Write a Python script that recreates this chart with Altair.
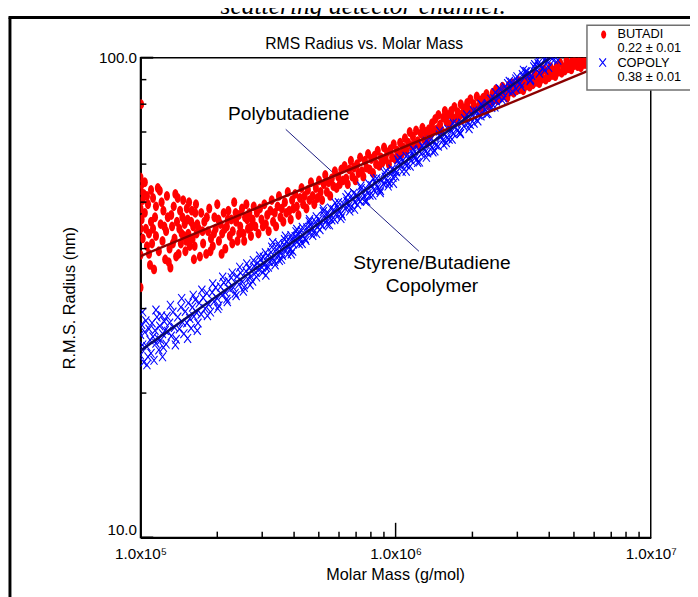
import altair as alt
import pandas as pd

FONT = "Liberation Sans"

# ---------------- data ----------------
# (molar mass in units of 1e5 g/mol, RMS radius in nm)
butadi_points = [
    (1.00, 56.3), (1.00, 53.0), (1.00, 48.5), (1.00, 44.0), (1.00, 38.8), (1.00, 33.2), (1.005, 80.0),
    (1.01, 54.5), (1.01, 46.0), (1.02, 42.0), (1.02, 50.5), (1.03, 52.0), (1.04, 47.5), (1.04, 55.0),
    (1.05, 44.0), (1.06, 40.5), (1.06, 51.5), (1.07, 49.5), (1.08, 43.0), (1.08, 39.0), (1.09, 37.0),
    (1.10, 45.5), (1.10, 53.0), (1.11, 41.0), (1.12, 51.0), (1.12, 44.0), (1.13, 36.2), (1.14, 46.5),
    (1.15, 42.5), (1.15, 49.0), (1.17, 53.5), (1.18, 39.5), (1.19, 52.8), (1.20, 45.0), (1.21, 50.0),
    (1.22, 41.5), (1.23, 48.0), (1.24, 44.5), (1.25, 38.0), (1.26, 43.5), (1.27, 51.5), (1.28, 46.5),
    (1.29, 37.5), (1.30, 40.0), (1.31, 36.5), (1.32, 47.0), (1.33, 44.5), (1.34, 41.0), (1.35, 49.0),
    (1.36, 42.0), (1.37, 52.0), (1.38, 38.5), (1.39, 45.5), (1.40, 51.0), (1.41, 39.0), (1.42, 44.0),
    (1.43, 48.0), (1.44, 41.0), (1.45, 43.0), (1.46, 46.5), (1.47, 50.5), (1.48, 42.5), (1.49, 45.0),
    (1.50, 39.5), (1.51, 41.5), (1.52, 48.5), (1.53, 46.0), (1.54, 43.0), (1.55, 50.0), (1.56, 40.5),
    (1.57, 42.0), (1.58, 45.5), (1.59, 48.0), (1.60, 42.0), (1.61, 44.5), (1.62, 38.0), (1.63, 40.5),
    (1.64, 47.5), (1.65, 49.5), (1.66, 43.0), (1.67, 45.0),
    (1.69, 44.0), (1.71, 38.5), (1.73, 47.5), (1.75, 43.5), (1.76, 41.0), (1.78, 45.5), (1.81, 39.0),
    (1.82, 46.5), (1.84, 43.5), (1.86, 48.5), (1.88, 39.5), (1.89, 42.0), (1.92, 40.5), (1.94, 43.0),
    (1.95, 46.5), (1.97, 44.0), (2.00, 49.5), (2.02, 46.0), (2.03, 41.5), (2.06, 45.0), (2.08, 39.0),
    (2.09, 43.0), (2.12, 47.5), (2.14, 44.0), (2.15, 40.0), (2.18, 44.5), (2.20, 46.0), (2.21, 48.0),
    (2.24, 42.5), (2.27, 46.0), (2.29, 41.0), (2.30, 43.5), (2.33, 50.0), (2.36, 47.5), (2.37, 45.5),
    (2.40, 41.5), (2.43, 47.0), (2.44, 43.0), (2.46, 44.5), (2.50, 48.5), (2.53, 43.0), (2.55, 41.5),
    (2.57, 46.5), (2.60, 49.5), (2.62, 46.0), (2.64, 44.0), (2.67, 47.5), (2.71, 42.5), (2.72, 44.5),
    (2.75, 46.0), (2.78, 49.0), (2.82, 44.5), (2.86, 47.5), (2.90, 43.0), (2.94, 48.5), (2.98, 46.0),
    (3.02, 44.5), (3.06, 49.5), (3.10, 45.0), (3.14, 47.0), (3.18, 43.5), (3.23, 48.0), (3.27, 50.5),
    (3.31, 45.5), (3.36, 47.5), (3.40, 44.5), (3.45, 49.0), (3.49, 51.5), (3.54, 46.5), (3.58, 48.5),
    (3.63, 45.5), (3.68, 50.0), (3.73, 47.5), (3.78, 52.5), (3.83, 48.0), (3.88, 46.0), (3.93, 50.5),
    (3.98, 48.5), (4.04, 52.0), (4.10, 49.0), (4.16, 47.0), (4.22, 51.0), (4.28, 53.5), (4.34, 49.5),
    (4.40, 51.5), (4.47, 48.5), (4.53, 53.0), (4.60, 50.5), (4.66, 55.0), (4.73, 51.5), (4.80, 49.5),
    (4.87, 53.5), (4.94, 51.0), (5.01, 55.5), (5.08, 52.5), (5.15, 50.5), (5.23, 54.5), (5.30, 57.0),
    (5.38, 52.5), (5.46, 55.0), (5.54, 51.5), (5.62, 56.0), (5.70, 54.0), (5.78, 58.0), (5.87, 53.5),
    (5.96, 56.5), (6.04, 54.5), (6.13, 58.5), (6.22, 55.5), (6.31, 59.5), (6.40, 56.0), (6.49, 54.5),
    (6.58, 58.5), (6.68, 61.0), (6.77, 56.5), (6.87, 59.0), (6.96, 55.5), (7.06, 60.0), (7.16, 57.5),
    (7.26, 62.0), (7.37, 58.0), (7.47, 56.5), (7.58, 61.0), (7.69, 59.0), (7.80, 63.0), (7.91, 58.5),
    (8.03, 61.5), (8.15, 57.5), (8.27, 62.5), (8.39, 60.0), (8.51, 64.0), (8.63, 59.5), (8.76, 62.0),
    (8.88, 60.5), (9.01, 65.0), (9.14, 61.5), (9.27, 63.5), (9.41, 60.0), (9.55, 64.5), (9.69, 62.0),
    (9.83, 66.0), (9.97, 61.5), (10.12, 64.0), (10.27, 62.5), (10.42, 66.5), (10.57, 63.0),
    (10.72, 65.0), (10.88, 68.0), (11.03, 64.0), (11.2, 66.5), (11.36, 70.0), (11.52, 65.5),
    (11.69, 68.5), (11.86, 66.0), (12.03, 70.5), (12.2, 67.0), (12.38, 65.5), (12.56, 69.5),
    (12.74, 71.5), (12.93, 67.5), (13.12, 70.0), (13.31, 66.5), (13.5, 71.0), (13.7, 69.0),
    (13.9, 73.0), (14.1, 70.5), (14.3, 74.5), (14.5, 71.0), (14.72, 76.0), (14.93, 72.5), (15.15, 70.5),
    (15.37, 75.0), (15.6, 77.5), (15.82, 73.5), (16.05, 76.0), (16.28, 72.5), (16.52, 77.5), (16.76, 75.0),
    (17.0, 79.0), (17.25, 74.5), (17.5, 77.0), (17.75, 75.5), (18.01, 80.0), (18.27, 76.5), (18.54, 78.5),
    (18.81, 75.5), (19.08, 80.5), (19.36, 78.0), (19.64, 82.0), (19.93, 77.5), (20.22, 80.0), (20.51, 78.5),
    (20.81, 83.0), (21.11, 79.0), (21.42, 81.5), (21.73, 78.0), (22.05, 82.5), (22.37, 80.5), (22.7, 84.0),
    (23.03, 79.5), (23.36, 82.0), (23.7, 80.5), (24.05, 84.5), (24.4, 82.0), (24.75, 86.0), (25.11, 81.5),
    (25.48, 84.0), (25.85, 82.5), (26.23, 87.0), (26.61, 83.5), (27.0, 85.5), (27.39, 82.5), (27.79, 87.5),
    (28.19, 85.0), (28.6, 88.5), (29.02, 84.5), (29.44, 87.0), (29.87, 85.5), (30.31, 89.5), (30.75, 86.0),
    (31.2, 88.5), (31.65, 85.5), (32.11, 90.0), (32.58, 87.5), (33.05, 91.5), (33.53, 87.0), (34.02, 89.5),
    (34.52, 88.0), (35.02, 92.5), (35.53, 89.0), (36.05, 91.0), (36.57, 88.5), (37.1, 93.0), (37.64, 90.5),
    (38.19, 94.5), (38.75, 90.0), (39.31, 92.5), (39.88, 91.0), (40.46, 95.5), (41.05, 92.0), (41.65, 94.0),
    (42.25, 91.5), (42.87, 96.0), (43.49, 93.5), (44.12, 97.5), (44.76, 93.0), (45.41, 95.5), (46.07, 94.0),
    (46.74, 98.5), (47.42, 95.0), (48.11, 97.0), (48.81, 94.5), (49.52, 99.0), (50.24, 96.5), (50.97, 99.5),
    (51.71, 96.0), (52.46, 98.0), (53.22, 95.5), (54.0, 99.5), (54.78, 97.0), (55.58, 99.0), (56.39, 96.5),
    (57.21, 99.5), (58.04, 98.0), (58.89, 97.0), (60.0, 99.0),
]

copoly_points = [
    (1.00, 26.5), (1.00, 24.0), (1.01, 27.8), (1.02, 25.2), (1.02, 29.5), (1.03, 23.2), (1.04, 26.8),
    (1.05, 28.3), (1.06, 25.0), (1.06, 22.9), (1.07, 23.8), (1.08, 27.2), (1.09, 25.8), (1.10, 24.2),
    (1.11, 28.0), (1.12, 26.2), (1.13, 23.4), (1.14, 27.0), (1.15, 25.4), (1.15, 29.8), (1.16, 28.8),
    (1.17, 26.0), (1.18, 24.6), (1.19, 27.6), (1.20, 25.8), (1.21, 29.0), (1.22, 26.6), (1.22, 23.8),
    (1.23, 24.9), (1.24, 28.2), (1.25, 27.0), (1.26, 25.3), (1.27, 28.9), (1.28, 26.9), (1.30, 28.0),
    (1.31, 30.5), (1.32, 26.3), (1.34, 29.5), (1.36, 27.4), (1.37, 25.2), (1.38, 25.9), (1.40, 28.8),
    (1.42, 27.2), (1.44, 30.2), (1.45, 31.5), (1.46, 28.1), (1.48, 26.6), (1.50, 29.6), (1.52, 28.0),
    (1.53, 26.0), (1.54, 30.8), (1.56, 28.6), (1.58, 27.3), (1.60, 30.2), (1.61, 32.0), (1.62, 28.9),
    (1.64, 31.3), (1.66, 29.4), (1.67, 27.0), (1.68, 28.0), (1.70, 30.8),
    (1.73, 29.2), (1.74, 32.8), (1.76, 31.6), (1.79, 30.0), (1.82, 32.3), (1.83, 29.0), (1.85, 30.6),
    (1.88, 29.5), (1.91, 32.4), (1.92, 33.8), (1.94, 31.0), (1.97, 33.2), (2.00, 31.5), (2.01, 30.0),
    (2.03, 30.4), (2.06, 33.3), (2.09, 32.0), (2.10, 34.9), (2.12, 34.0), (2.15, 32.4), (2.18, 31.4),
    (2.19, 31.0), (2.21, 34.2), (2.24, 32.9), (2.27, 34.8), (2.29, 35.6), (2.31, 33.2), (2.35, 32.3),
    (2.37, 31.9), (2.39, 35.0), (2.43, 33.7), (2.45, 36.6), (2.47, 35.6), (2.51, 34.1), (2.53, 32.6),
    (2.55, 33.2), (2.59, 35.9), (2.61, 37.2), (2.63, 34.6), (2.67, 36.4), (2.69, 33.6), (2.71, 35.0),
    (2.75, 34.2), (2.77, 37.8), (2.79, 36.8), (2.83, 35.7), (2.85, 34.9), (2.87, 37.3), (2.91, 36.2),
    (2.93, 38.6), (2.95, 37.9), (2.99, 36.6), (3.01, 35.7), (3.03, 38.4), (3.07, 37.1), (3.09, 39.2),
    (3.1, 35.2), (3.11, 36.5), (3.15, 38.7), (3.17, 36.6), (3.20, 37.6), (3.25, 39.3), (3.27, 40.3),
    (3.3, 41.2), (3.30, 38.1), (3.35, 37.6), (3.37, 37.0), (3.40, 39.8), (3.45, 38.7), (3.47, 41.0),
    (3.5, 37.8), (3.50, 40.3), (3.55, 39.1), (3.57, 38.0), (3.60, 38.7), (3.65, 40.8), (3.67, 41.8),
    (3.7, 42.5), (3.70, 39.8), (3.75, 41.3), (3.77, 38.9), (3.80, 40.2), (3.86, 39.8), (3.89, 42.6),
    (3.9, 39.0), (3.92, 41.9), (3.95, 39.5), (3.98, 40.9), (4.04, 42.4), (4.07, 43.4), (4.1, 43.9),
    (4.10, 41.3), (4.16, 42.9), (4.19, 40.9), (4.22, 41.9), (4.28, 43.6), (4.3, 41.0), (4.31, 44.3),
    (4.35, 42.5), (4.42, 42.0), (4.45, 41.6), (4.49, 44.2), (4.56, 43.2), (4.59, 45.5), (4.6, 46.0),
    (4.63, 44.8), (4.70, 43.7), (4.73, 42.6), (4.77, 43.3), (4.85, 45.5), (4.89, 46.6), (4.9, 43.0),
    (4.93, 44.4), (5.01, 46.0), (5.05, 43.8), (5.09, 45.0), (5.17, 44.6), (5.2, 48.4), (5.21, 47.8),
    (5.26, 46.8), (5.35, 45.8), (5.39, 44.9), (5.44, 47.4), (5.5, 44.8), (5.53, 46.3), (5.57, 48.6),
    (5.62, 45.9), (5.72, 48.2), (5.77, 46.0), (5.8, 49.8), (5.82, 47.1), (5.92, 48.8), (5.97, 49.9),
    (6.02, 47.7), (6.1, 46.2), (6.12, 47.3), (6.17, 46.8), (6.23, 49.6), (6.34, 48.5), (6.39, 51.1),
    (6.45, 50.2), (6.5, 51.8), (6.56, 49.1), (6.61, 47.9), (6.67, 48.7), (6.79, 51.0), (6.85, 52.2),
    (6.9, 48.3), (6.91, 50.0), (7.03, 51.7), (7.09, 49.4), (7.15, 50.6), (7.27, 50.2), (7.3, 54.0),
    (7.33, 53.4), (7.40, 52.5), (7.53, 51.5), (7.59, 50.3), (7.66, 53.2), (7.7, 50.2), (7.79, 52.1),
    (7.86, 54.6), (7.93, 51.7), (8.07, 54.1), (8.14, 51.7), (8.2, 55.9), (8.21, 53.0), (8.35, 54.8),
    (8.43, 56.0), (8.50, 53.6), (8.65, 53.2), (8.7, 52.3), (8.72, 52.8), (8.80, 55.7), (8.95, 54.6),
    (9.03, 57.6), (9.11, 56.4), (9.2, 58.0), (9.27, 55.2), (9.35, 54.0), (9.43, 54.8), (9.59, 57.4),
    (9.68, 58.6), (9.76, 56.3), (9.8, 54.7), (9.93, 58.1), (10.0, 56.6), (10.1, 57.8), (10.2, 61.2),
    (10.3, 60.4), (10.4, 61.8), (10.5, 59.3), (10.6, 57.9), (10.7, 61.1), (10.9, 60.0), (11.0, 62.3),
    (11.0, 58.0), (11.1, 59.6), (11.3, 62.2), (11.4, 59.4), (11.5, 61.1), (11.7, 63.0), (11.7, 64.5),
    (11.8, 64.1), (11.9, 61.8), (12.1, 61.4), (12.2, 60.5), (12.35, 64.1), (12.4, 60.6), (12.6, 63.0),
    (12.7, 65.6), (12.85, 64.9), (13.1, 63.7), (13.2, 62.0), (13.2, 67.0), (13.35, 63.3), (13.6, 66.1),
    (13.7, 67.4), (13.85, 65.0), (14.0, 63.6), (14.1, 66.9), (14.25, 63.9), (14.4, 65.7), (14.7, 65.4),
    (14.85, 69.0), (14.9, 70.3), (15.0, 68.3), (15.3, 67.2), (15.45, 65.8), (15.6, 69.2), (15.8, 66.5),
    (15.9, 68.0), (16.05, 70.9), (16.2, 67.6), (16.5, 70.6), (16.65, 67.6), (16.8, 69.5), (16.8, 73.1),
    (17.1, 71.6), (17.3, 72.8), (17.45, 70.4), (17.8, 70.0), (17.9, 69.4), (17.95, 69.5), (18.15, 73.1),
    (18.5, 72.0), (18.65, 74.7), (18.85, 74.2), (19.0, 76.0), (19.2, 73.0), (19.4, 71.1), (19.6, 72.6),
    (20.0, 75.9), (20.2, 77.5), (20.3, 73.0), (20.4, 74.8), (20.8, 77.1), (21.0, 73.8), (21.2, 75.9),
    (21.6, 75.6), (21.6, 80.0), (21.8, 79.7), (22.0, 79.0), (22.45, 78.0), (22.7, 76.4), (22.9, 80.3),
    (23.0, 76.5), (23.35, 79.0), (23.6, 82.0), (23.8, 78.7), (24.3, 82.2), (24.5, 78.9), (24.6, 84.6),
    (24.8, 81.2), (25.3, 83.0), (25.5, 86.3), (25.8, 85.8), (26.2, 81.5), (26.3, 84.6), (26.5, 82.5),
    (26.8, 87.0), (27.3, 85.7), (27.5, 88.3), (27.8, 85.3), (27.9, 89.3), (28.4, 88.9), (28.7, 84.9),
    (29.0, 87.8), (29.6, 90.3), (29.7, 86.0), (29.9, 91.3), (30.2, 88.9), (30.8, 88.5), (31.1, 87.0),
    (31.4, 92.2), (31.7, 94.2), (32.0, 91.0), (32.3, 93.5), (32.7, 93.6), (33.4, 92.2), (33.7, 89.5),
    (33.8, 90.1), (34.1, 91.8), (34.8, 95.7), (35.1, 96.8), (35.5, 94.5), (36.0, 99.0), (36.2, 97.2),
    (36.6, 92.8), (37.0, 95.7), (37.8, 95.3), (38.2, 98.9), (38.4, 94.2), (38.6, 99.4), (39.4, 98.2),
    (39.8, 95.4), (40.2, 101.0), (40.9, 103.5), (41.0, 99.5), (41.5, 102.5), (41.9, 99.1), (42.8, 103.3),
    (43.2, 98.8), (43.7, 102.0), (44.6, 104.8), (45.0, 106.0), (45.5, 103.3),
]

# fitted power-law lines (end points)
butadi_fit_mass_e5 = [1.0, 65.0]
butadi_fit_radius = [38.6, 96.7]
copoly_fit_mass_e5 = [1.0, 45.0]
copoly_fit_radius = [24.5, 104.1]

# axis values
x_label_values = [1e5, 1e6, 1e7]
y_label_values = [10, 100]
x_minor_ticks = [2e5, 3e5, 4e5, 5e5, 6e5, 7e5, 8e5, 9e5, 2e6, 3e6, 4e6, 5e6, 6e6, 7e6, 8e6, 9e6]
x_major_ticks = [1e6]
y_minor_ticks = [20, 30, 40, 50, 60, 70, 80, 90]
y_major_ticks = [10, 100]

# annotations (anchors in data units)
anno_poly = {"M": 3.81e5, "R": 74.0, "label": "Polybutadiene"}
anno_sty1 = {"M": 1.388e6, "R": 36.3, "label": "Styrene/Butadiene"}
anno_sty2 = {"M": 1.388e6, "R": 32.45, "label": "Copolymer"}
leader_mass = [3.71e5, 1.234e6]
leader_radius = [70.9, 39.5]

legend_labels = ["BUTADI", "0.22 \u00b1 0.01", "COPOLY", "0.38 \u00b1 0.01"]
title_text = "RMS Radius vs. Molar Mass"
caption_text = "scattering detector channel."

# ---------------- tables ----------------
red_df = pd.DataFrame(butadi_points, columns=["m", "R"])
red_df["M"] = red_df["m"] * 1e5
blue_df = pd.DataFrame(copoly_points, columns=["m", "R"])
blue_df["M"] = blue_df["m"] * 1e5
red_fit = pd.DataFrame({"M": [v * 1e5 for v in butadi_fit_mass_e5], "R": butadi_fit_radius})
blue_fit = pd.DataFrame({"M": [v * 1e5 for v in copoly_fit_mass_e5], "R": copoly_fit_radius})
leader_df = pd.DataFrame({"M": leader_mass, "R": leader_radius})
anno_df = pd.DataFrame([anno_poly, anno_sty1, anno_sty2])
ytm_df = pd.DataFrame({"R": y_minor_ticks})
ytM_df = pd.DataFrame({"R": y_major_ticks})
xtm_df = pd.DataFrame({"M": x_minor_ticks})
xtM_df = pd.DataFrame({"M": x_major_ticks})

xs = alt.Scale(type="log", domain=[1e5, 1e7], nice=False)
ys = alt.Scale(type="log", domain=[10, 100], nice=False)

x_axis = alt.Axis(
    values=x_label_values,
    labelExpr="'1.0x10' + (datum.value < 5e5 ? '\u2075' : datum.value < 5e6 ? '\u2076' : '\u2077')",
    labelFont=FONT, labelFontSize=15.5, labelColor="black", labelPadding=21,
    labelBaseline="alphabetic", labelFlush=False, labelOverlap=False,
    ticks=False, grid=False, domain=True, domainColor="black", domainWidth=2,
    title="Molar Mass (g/mol)", titleFont=FONT, titleFontSize=16.5, titleFontWeight="normal",
    titleColor="black", titleX=259.5, titleY=43, titleBaseline="alphabetic", titleAlign="center",
)
y_axis = alt.Axis(
    values=y_label_values,
    labelExpr="format(datum.value, '.1f')",
    labelFont=FONT, labelFontSize=15.5, labelColor="black", labelPadding=4,
    labelBaseline={"condition": {"test": "datum.value < 50", "value": "bottom"}, "value": "middle"},
    labelFlush=False, labelOverlap=False,
    ticks=False, grid=False, domain=True, domainColor="black", domainWidth=2,
    title="R.M.S. Radius (nm)", titleFont=FONT, titleFontSize=16.5, titleFontWeight="normal",
    titleColor="black", titleX=-72, titleY=244.5, titleAngle=270, titleBaseline="middle",
    titleAlign="center",
)

X = alt.X("M:Q", scale=xs, axis=x_axis, title="Molar Mass (g/mol)")
Y = alt.Y("R:Q", scale=ys, axis=y_axis, title="R.M.S. Radius (nm)")

ELLIPSE = "M0,-1A0.62,1,0,1,1,0,1A0.62,1,0,1,1,0,-1Z"
XMARK = "M-0.8,-1L0.8,1M0.8,-1L-0.8,1"

one = alt.Data(values=[{"a": 1}])


def ptext(txt, x, y, **kw):
    return alt.Chart(one).mark_text(**kw).encode(
        x=alt.value(x), y=alt.value(y), text=alt.value(txt)
    )


frame_left = alt.Chart(one).mark_rule(color="black", strokeWidth=3).encode(
    x=alt.value(-133), y=alt.value(-41), y2=alt.value(620)
)
frame_top = alt.Chart(one).mark_rule(color="black", strokeWidth=3).encode(
    x=alt.value(-134.5), x2=alt.value(620), y=alt.value(-41)
)

leader = alt.Chart(leader_df).mark_line(color="#1a1a80", strokeWidth=1, clip=True).encode(x=X, y=Y)

red_pts = alt.Chart(red_df).mark_point(
    shape=ELLIPSE, filled=True, size=100, color="#ff0000", opacity=1, clip=True
).encode(x=X, y=Y)
blue_pts = alt.Chart(blue_df).mark_point(
    shape=XMARK, filled=False, size=81, color="#0000ff", strokeWidth=1.1, opacity=1, clip=True
).encode(x=X, y=Y)
red_line = alt.Chart(red_fit).mark_line(color="#8b0000", strokeWidth=2.5, clip=True).encode(x=X, y=Y)
blue_line = alt.Chart(blue_fit).mark_line(color="#0a0a6e", strokeWidth=2.5, clip=True).encode(x=X, y=Y)

ytm = alt.Chart(ytm_df).mark_rule(color="black", strokeWidth=1.5).encode(
    y=Y, x=alt.value(0), x2=alt.value(6)
)
ytM = alt.Chart(ytM_df).mark_rule(color="black", strokeWidth=2).encode(
    y=Y, x=alt.value(0), x2=alt.value(13)
)
xtm = alt.Chart(xtm_df).mark_rule(color="black", strokeWidth=1.5).encode(
    x=X, y=alt.value(489), y2=alt.value(483)
)
xtM = alt.Chart(xtM_df).mark_rule(color="black", strokeWidth=1.5).encode(
    x=X, y=alt.value(489), y2=alt.value(474)
)

annos = alt.Chart(anno_df).mark_text(
    font=FONT, fontSize=19.5, color="black", align="center", baseline="alphabetic"
).encode(x=X, y=Y, text="label:N")

title = ptext(title_text, 228, -9, font=FONT, fontSize=16, color="black",
              align="center", baseline="alphabetic")
caption = ptext(caption_text, 227, -44, font="Liberation Serif", fontSize=26,
                fontStyle="italic", color="black", align="center", baseline="alphabetic")

legend_box = alt.Chart(one).mark_rect(fill="white", stroke="#707070", strokeWidth=1.5).encode(
    x=alt.value(455), x2=alt.value(620), y=alt.value(-33), y2=alt.value(33)
)
legend_red = alt.Chart(one).mark_point(
    shape=ELLIPSE, filled=True, size=70, color="#ff0000", opacity=1
).encode(x=alt.value(472), y=alt.value(-23.5))
legend_blue = alt.Chart(one).mark_point(
    shape=XMARK, filled=False, size=72, color="#0000ff", strokeWidth=1.2, opacity=1
).encode(x=alt.value(471), y=alt.value(5))

legend_texts = [
    ptext(legend_labels[0], 486, -20, font=FONT, fontSize=13, color="black", align="left", baseline="alphabetic"),
    ptext(legend_labels[1], 486, -5.5, font=FONT, fontSize=13, color="black", align="left", baseline="alphabetic"),
    ptext(legend_labels[2], 486, 9, font=FONT, fontSize=13, color="black", align="left", baseline="alphabetic"),
    ptext(legend_labels[3], 486, 23.5, font=FONT, fontSize=13, color="black", align="left", baseline="alphabetic"),
]

chart = alt.layer(
    frame_left, frame_top, leader, red_pts, blue_pts, red_line, blue_line,
    ytm, ytM, xtm, xtM, annos, title, caption,
    legend_box, legend_red, legend_blue, *legend_texts,
).properties(
    width=520, height=489,
    padding={"left": 135, "top": 45, "right": 40, "bottom": 56},
    autosize=alt.AutoSizeParams(type="none"),
).configure_view(stroke="black", strokeWidth=1.5)

chart.save("out.html", embed_options={"renderer": "svg", "actions": False})
